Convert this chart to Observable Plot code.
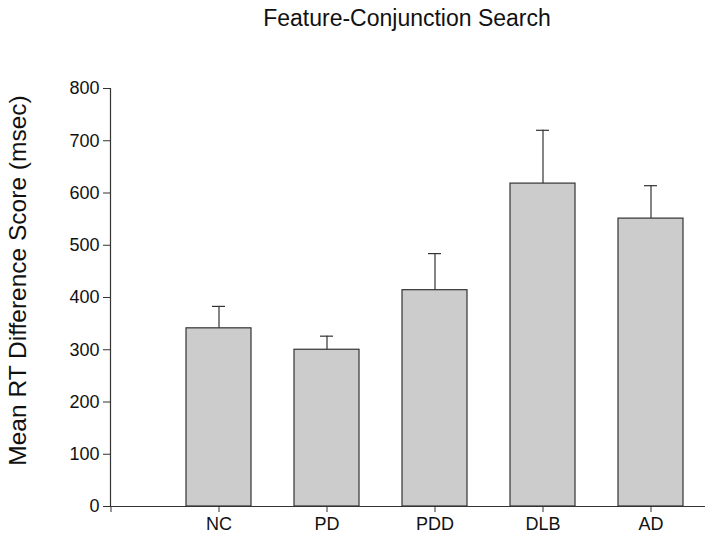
<!DOCTYPE html>
<html>
<head>
<meta charset="utf-8">
<script src="https://cdn.jsdelivr.net/npm/d3@7"></script>
<script src="https://cdn.jsdelivr.net/npm/@observablehq/plot@0.6"></script>
<style>
  html, body { margin: 0; padding: 0; background: #fff; }
  body { width: 714px; height: 540px; overflow: hidden; font-family: "Liberation Sans", Arial, sans-serif; }
  #title { box-sizing: border-box; width: 714px; height: 36px; padding-left: 100px; text-align: center;
           font-size: 23px; line-height: 36px; color: #111; }
  svg { display: block; }
</style>
</head>
<body>
<div id="title">Feature-Conjunction Search</div>
<div id="chart"></div>
<script>
const categories = ["", "NC", "PD", "PDD", "DLB", "AD"];
const groups = ["NC", "PD", "PDD", "DLB", "AD"];
const means = [341, 300, 414, 618, 551];
const errors = [42, 26, 70, 102, 63];
const yTicks = [0, 100, 200, 300, 400, 500, 600, 700, 800];
const yLabel = "Mean RT Difference Score (msec)";

const data = groups.map((g, i) => ({group: g, mean: means[i], top: means[i] + errors[i]}));

const W = 714, H = 504;
const mL = 110, mR = 9, mT = 52, mB = 34;
const step = (W - mR - mL) / 5.5;
const xRange = [mL - step / 2, W - mR];

const chart = Plot.plot({
  width: W,
  height: H,
  marginLeft: mL,
  marginRight: mR,
  marginTop: mT,
  marginBottom: mB,
  style: {fontFamily: "'Liberation Sans', Arial, sans-serif", fontSize: "18px", color: "#111", background: "#fff"},
  x: {type: "band", domain: categories, range: xRange, paddingInner: 0.4, paddingOuter: 0.2, align: 0.5},
  y: {domain: [0, 800]},
  marks: [
    Plot.barY(data, {x: "group", y: "mean", fill: "#cccccc", stroke: "#333", strokeWidth: 1.2}),
    Plot.ruleX(data, {x: "group", y1: "mean", y2: "top", stroke: "#333", strokeWidth: 1.2}),
    Plot.tickY(data, {x: "group", y: "top", stroke: "#333", strokeWidth: 1.2, insetLeft: 26, insetRight: 26}),
    Plot.frame({anchor: "left", stroke: "#333", strokeWidth: 1.2}),
    Plot.ruleY([0], {stroke: "#333", strokeWidth: 1.2}),
    Plot.axisY({ticks: yTicks, tickSize: 7, tickPadding: 4, label: null, fontSize: 18, stroke: "#333"}),
    Plot.axisX({tickSize: 6, tickPadding: 5, label: null, fontSize: 18, stroke: "#333"}),
    Plot.text([yLabel], {frameAnchor: "left", textAnchor: "middle", rotate: -90, dx: -92, dy: -17, fontSize: 24.5, fill: "#111"})
  ]
});
document.getElementById("chart").appendChild(chart);
</script>
</body>
</html>
